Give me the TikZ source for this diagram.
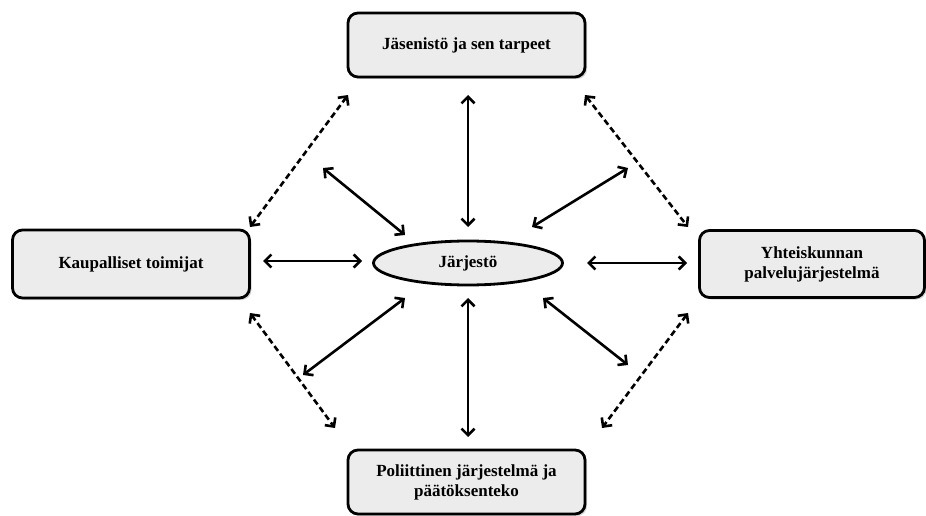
\documentclass[tikz,border=0pt]{standalone}
\usepackage{fontspec}
\setmainfont{Liberation Serif}
\usetikzlibrary{arrows.meta,shadows,shapes.geometric}
\tikzset{
  box/.style={draw=black, line width=2.8pt, rounded corners=10pt, fill=gray!15,
    align=center, font=\bfseries\fontsize{17}{20}\selectfont, inner sep=0pt,
    drop shadow={opacity=0.35, shadow xshift=2pt, shadow yshift=-2pt}},
  oval/.style={draw=black, line width=2.8pt, ellipse, fill=gray!15, inner sep=0pt,
    font=\bfseries\fontsize{17}{20}\selectfont},
  link/.style={line width=2.6pt, {Straight Barb[length=6.5pt,width=13pt,line width=2.6pt]}-{Straight Barb[length=6.5pt,width=13pt,line width=2.6pt]}},
  dlink/.style={link, dash pattern=on 6pt off 3.5pt}
}
\begin{document}
\begin{tikzpicture}[x=1pt,y=-1pt]
\useasboundingbox (0,0) rectangle (926,516);
\node[box, minimum width=237pt, minimum height=64pt] (top) at (466.5,45) {Jäsenistö ja sen tarpeet};
\node[box, minimum width=237pt, minimum height=68pt] (left) at (131,264) {Kaupalliset toimijat};
\node[box, minimum width=225pt, minimum height=67pt] (right) at (812,264) {Yhteiskunnan\\palvelujärjestelmä};
\node[box, minimum width=237pt, minimum height=64pt] (bottom) at (466.5,482) {Poliittinen järjestelmä ja\\päätöksenteko};
\node[oval, minimum width=189pt, minimum height=44pt] (org) at (468,263) {Järjestö};
% solid connector end points
\coordinate (t1) at (468,95);  \coordinate (t2) at (468,227);
\coordinate (b1) at (468,298); \coordinate (b2) at (468,437);
\coordinate (l1) at (263,261); \coordinate (l2) at (362,261);
\coordinate (r1) at (587,263); \coordinate (r2) at (687,263);
\coordinate (ul1) at (323,168); \coordinate (ul2) at (405,235);
\coordinate (ur1) at (532,227); \coordinate (ur2) at (628,168);
\coordinate (ll1) at (405,298); \coordinate (ll2) at (303,375);
\coordinate (lr1) at (543,298); \coordinate (lr2) at (628,365);
% dashed end points
\coordinate (dtl1) at (348,95); \coordinate (dtl2) at (250,227);
\coordinate (dtr1) at (585,95); \coordinate (dtr2) at (688,227);
\coordinate (dbl1) at (250,313); \coordinate (dbl2) at (335,428);
\coordinate (dbr1) at (688,313); \coordinate (dbr2) at (602,428);
\draw[link] (t1) -- (t2);
\draw[link] (b1) -- (b2);
\draw[link] (l1) -- (l2);
\draw[link] (r1) -- (r2);
\draw[link] (ul1) -- (ul2);
\draw[link] (ur1) -- (ur2);
\draw[link] (ll1) -- (ll2);
\draw[link] (lr1) -- (lr2);
\draw[dlink] (dtl1) -- (dtl2);
\draw[dlink] (dtr1) -- (dtr2);
\draw[dlink] (dbl1) -- (dbl2);
\draw[dlink] (dbr1) -- (dbr2);
\end{tikzpicture}
\end{document}
